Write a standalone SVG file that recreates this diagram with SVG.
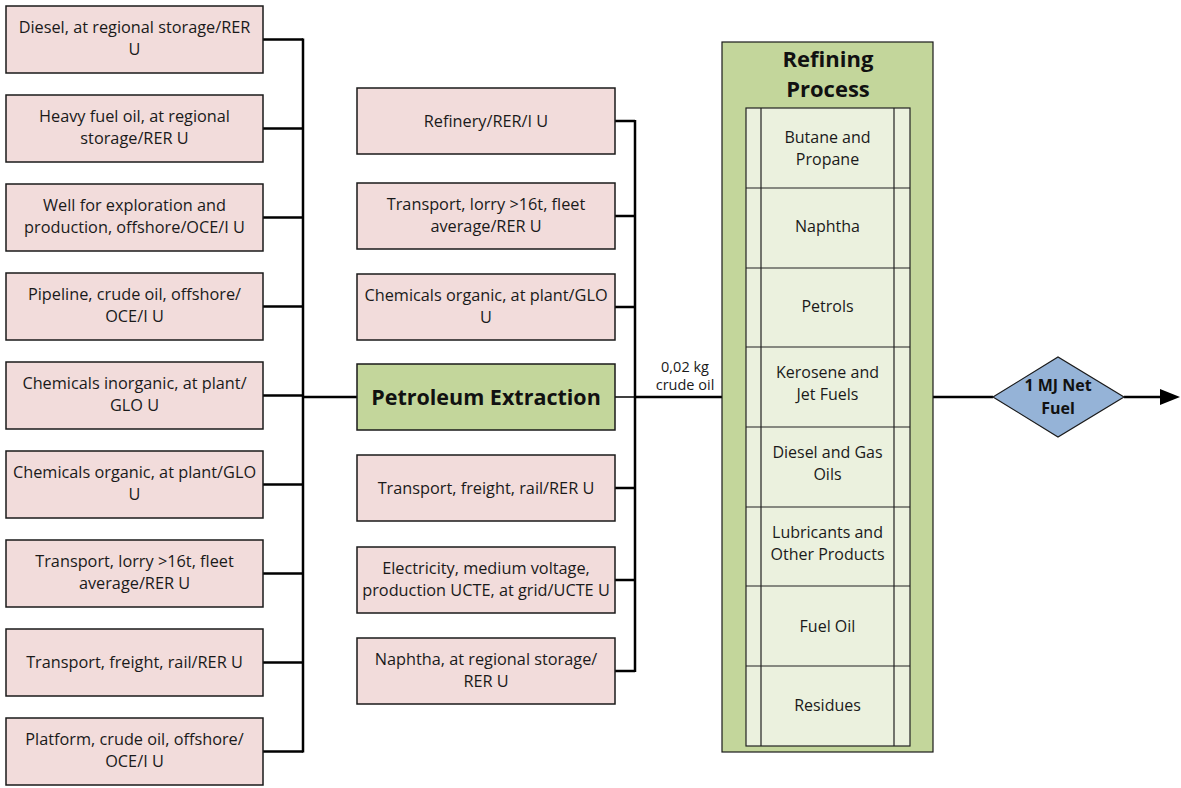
<svg xmlns="http://www.w3.org/2000/svg" width="1181" height="788" viewBox="0 0 1181 788">
<defs>
<style>
.box{fill:#f2dcdb;stroke:#1a1a1a;stroke-width:1.5}
.t{font-family:"Open Sans","Liberation Sans",sans-serif;font-size:16.3px;fill:#1a1a1a;text-anchor:middle}
.r{font-family:"Open Sans","Liberation Sans",sans-serif;font-size:16px;fill:#1a1a1a;text-anchor:middle}
.lbl{font-family:"Open Sans","Liberation Sans",sans-serif;font-size:14.5px;fill:#1a1a1a;text-anchor:middle}
.b{font-family:"Open Sans","Liberation Sans",sans-serif;font-weight:bold;fill:#111;text-anchor:middle}
.ln{stroke:#000;stroke-width:2.5;fill:none}
.thin{stroke:#000;stroke-width:1.5;fill:none}
.row{stroke:#222;stroke-width:1.2}
</style>
</defs>
<rect width="1181" height="788" fill="#fff"/>

<g id="connectors">
<path class="ln" d="M263,39.5H303M263,128.5H303M263,217.5H303M263,306.5H303M263,395.5H303M263,484.5H303M263,573.5H303M263,662.5H303M263,751.5H303"/>
<path class="ln" d="M303,38.5V752.5"/>
<path class="ln" d="M303,397H357"/>
<path class="ln" d="M615,121H635M615,216H635M615,307H635M615,488H635M615,580H635M615,671H635"/>
<path class="ln" d="M635,120V672"/>
<path class="thin" d="M615,397H635"/>
<path class="ln" d="M635,397H722"/>
<path class="ln" d="M933,397H993"/>
<path class="ln" d="M1124,397H1160"/>
<path d="M1160,389 L1180,397 L1160,405 z" fill="#000"/>
</g>

<g id="n-diesel"><rect class="box" x="6" y="6" width="257" height="67"/><text class="t" x="134.5" y="33">Diesel, at regional storage/RER</text><text class="t" x="134.5" y="55">U</text></g>
<g id="n-hfo"><rect class="box" x="6" y="95" width="257" height="67"/><text class="t" x="134.5" y="122">Heavy fuel oil, at regional</text><text class="t" x="134.5" y="144">storage/RER U</text></g>
<g id="n-well"><rect class="box" x="6" y="184" width="257" height="67"/><text class="t" x="134.5" y="211">Well for exploration and</text><text class="t" x="134.5" y="233">production, offshore/OCE/I U</text></g>
<g id="n-pipeline"><rect class="box" x="6" y="273" width="257" height="67"/><text class="t" x="134.5" y="300">Pipeline, crude oil, offshore/</text><text class="t" x="134.5" y="322">OCE/I U</text></g>
<g id="n-chem-inorg"><rect class="box" x="6" y="362" width="257" height="67"/><text class="t" x="134.5" y="389">Chemicals inorganic, at plant/</text><text class="t" x="134.5" y="411">GLO U</text></g>
<g id="n-chem-org-l"><rect class="box" x="6" y="451" width="257" height="67"/><text class="t" x="134.5" y="478">Chemicals organic, at plant/GLO</text><text class="t" x="134.5" y="500">U</text></g>
<g id="n-lorry-l"><rect class="box" x="6" y="540" width="257" height="67"/><text class="t" x="134.5" y="567">Transport, lorry &gt;16t, fleet</text><text class="t" x="134.5" y="589">average/RER U</text></g>
<g id="n-rail-l"><rect class="box" x="6" y="629" width="257" height="67"/><text class="t" x="134.5" y="668">Transport, freight, rail/RER U</text></g>
<g id="n-platform"><rect class="box" x="6" y="718" width="257" height="67"/><text class="t" x="134.5" y="745">Platform, crude oil, offshore/</text><text class="t" x="134.5" y="767">OCE/I U</text></g>

<g id="n-refinery"><rect class="box" x="357" y="88" width="258" height="66"/><text class="t" x="486" y="127">Refinery/RER/I U</text></g>
<g id="n-lorry-m"><rect class="box" x="357" y="183" width="258" height="66"/><text class="t" x="486" y="210">Transport, lorry &gt;16t, fleet</text><text class="t" x="486" y="232">average/RER U</text></g>
<g id="n-chem-org-m"><rect class="box" x="357" y="274" width="258" height="66"/><text class="t" x="486" y="301">Chemicals organic, at plant/GLO</text><text class="t" x="486" y="323">U</text></g>
<g id="n-petroleum"><rect x="357" y="364" width="258" height="66" fill="#c3d69b" stroke="#1a1a1a" stroke-width="1.5"/><text class="b" x="486" y="405" font-size="21.5">Petroleum Extraction</text></g>
<g id="n-rail-m"><rect class="box" x="357" y="455" width="258" height="66"/><text class="t" x="486" y="494">Transport, freight, rail/RER U</text></g>
<g id="n-electricity"><rect class="box" x="357" y="547" width="258" height="66"/><text class="t" x="486" y="574">Electricity, medium voltage,</text><text class="t" x="486" y="596">production UCTE, at grid/UCTE U</text></g>
<g id="n-naphtha"><rect class="box" x="357" y="638" width="258" height="66"/><text class="t" x="486" y="665">Naphtha, at regional storage/</text><text class="t" x="486" y="687">RER U</text></g>

<g id="label-crude"><text class="lbl" x="685" y="372">0,02 kg</text><text class="lbl" x="685" y="390">crude oil</text></g>

<g id="n-refining">
<rect x="722" y="42" width="211" height="710" fill="#c3d69b" stroke="#1a1a1a" stroke-width="1.2"/>
<text class="b" x="828" y="67" font-size="22">Refining</text>
<text class="b" x="828" y="97" font-size="22">Process</text>
<rect x="746" y="108" width="164" height="638" fill="#ebf1de" stroke="#222" stroke-width="1.2"/>
<path class="row" d="M761,108V746M894,108V746M746,188H910M746,268H910M746,347H910M746,427H910M746,507H910M746,586H910M746,666H910"/>
<text class="r" x="827.5" y="143">Butane and</text><text class="r" x="827.5" y="165">Propane</text>
<text class="r" x="827.5" y="232">Naphtha</text>
<text class="r" x="827.5" y="312">Petrols</text>
<text class="r" x="827.5" y="378">Kerosene and</text><text class="r" x="827.5" y="400">Jet Fuels</text>
<text class="r" x="827.5" y="458">Diesel and Gas</text><text class="r" x="827.5" y="480">Oils</text>
<text class="r" x="827.5" y="538">Lubricants and</text><text class="r" x="827.5" y="560">Other Products</text>
<text class="r" x="827.5" y="632">Fuel Oil</text>
<text class="r" x="827.5" y="711">Residues</text>
</g>

<g id="n-fuel">
<polygon points="993,397 1058,357 1124,397 1058,437" fill="#95b3d7" stroke="#1a1a1a" stroke-width="1.2"/>
<text class="b" x="1058" y="391" font-size="16">1 MJ Net</text>
<text class="b" x="1058" y="414" font-size="16">Fuel</text>
</g>
</svg>
